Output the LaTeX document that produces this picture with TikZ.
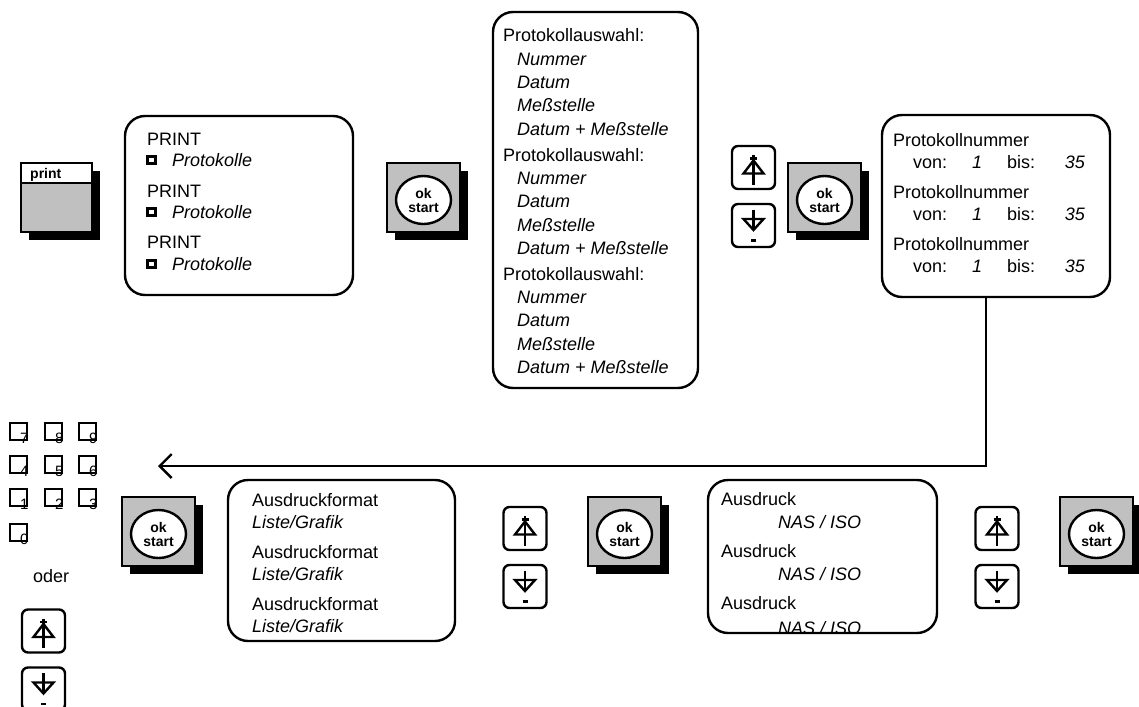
\documentclass[tikz,border=0pt]{standalone}
\usepackage{fontspec}
\setmainfont{Liberation Sans}
\usetikzlibrary{arrows.meta,shadows,shapes.geometric}
\definecolor{keygrey}{HTML}{C0C0C0}

\tikzset{
  panel/.style={draw, line width=2.4pt, rounded corners=20pt, inner sep=0pt},
  txt/.style={anchor=base west, inner sep=0pt, font=\fontsize{18}{22}\selectfont},
  itxt/.style={txt, font=\fontsize{18}{22}\selectfont\itshape},
  keybody/.style={draw, line width=2.2pt, fill=keygrey, inner sep=0pt,
    minimum width=73pt, minimum height=69pt,
    drop shadow={shadow xshift=8pt, shadow yshift=-8pt, fill=black, opacity=1}},
  okface/.style={ellipse, draw, line width=2.4pt, fill=white, minimum width=55pt, minimum height=48pt,
    inner sep=0pt, align=center, font=\fontsize{14}{14}\selectfont\bfseries},
  keylbl/.style={anchor=base west, inner sep=0pt, font=\fontsize{14}{14}\selectfont\bfseries},
  bullet/.style={draw, line width=2.2pt, minimum width=8pt, minimum height=7pt, inner sep=0pt},
  padkey/.style={draw, line width=2.6pt, minimum size=17pt, inner sep=0pt},
  paddigit/.style={anchor=base west, inner sep=0pt, font=\fontsize{15}{15}\selectfont},
  btnframe/.style={draw, line width=2.4pt, rounded corners=6pt, minimum size=43pt, inner sep=0pt},
  glyph/.style={line width=2.4pt},
  link/.style={line width=2.4pt, -{Straight Barb[length=12pt,width=24pt,line width=2.4pt]}},
  upkey/.pic={
    \node[btnframe] (-f) at (0,0) {};
    \draw[glyph] (0,-12.5) -- (0,17);
    \draw[glyph] (-3.5,-9) -- (3.5,-9);
    \draw[glyph, line join=miter] (0,-7) -- (10,6) -- (-10,6) -- cycle;
  },
  downkey/.pic={
    \node[btnframe] (-f) at (0,0) {};
    \draw[glyph] (0,-16) -- (0,4);
    \draw[glyph, line join=miter] (-10,-6.5) -- (10,-6.5) -- (0,4.5) -- cycle;
    \draw[glyph] (-2.5,15) -- (2.5,15);
  }
}

\begin{document}
\begin{tikzpicture}[x=1pt, y=-1pt]
\useasboundingbox (0,0) rectangle (1139,706);
\fill[white] (0,0) rectangle (1139,706);

% print key
\node[keybody, minimum width=71pt] (pk) at (56.5,197.5) {};
\draw[line width=2.2pt, fill=white] (21,163) rectangle (92,183);
\node[keylbl] (pklbl) at (30,178) {print};

% menu: PRINT / Protokolle
\node[panel, minimum width=228pt, minimum height=179pt] (b1) at (239,205.5) {};
\foreach \g/\yp/\yq in {0/145/166, 1/197/218, 2/248/270} {
  \node[txt] (pr\g) at (147,\yp) {PRINT};
  \node[bullet] (bu\g) at (151.5,\yq-6) {};
  \node[itxt] (pt\g) at (172,\yq) {Protokolle};
}

% ok/start keys
\foreach \k/\x/\y in {1/423.5/197.5, 2/824.5/197.5, 3/158.5/531.5, 4/624.5/531.5, 5/1096.5/531.5} {
  \node[keybody] (k\k) at (\x,\y) {};
  \node[okface] (k\k f) at (\x,\y+2.5) {ok\\start};
}

% menu: Protokollauswahl
\node[panel, minimum width=205pt, minimum height=376pt] (b2) at (595.5,200) {};
\foreach \g in {0,1,2} {
  \pgfmathsetmacro\yb{42+119*\g}
  \node[txt]  (pa\g) at (503,\yb) {Protokollauswahl:};
  \node[itxt] (pn\g) at (517,\yb+23.3) {Nummer};
  \node[itxt] (pd\g) at (517,\yb+46.6) {Datum};
  \node[itxt] (pm\g) at (517,\yb+70) {Meßstelle};
  \node[itxt] (pdm\g) at (517,\yb+93.3) {Datum + Meßstelle};
}

% arrow keys
\pic (upA) at (753.5,167.5) {upkey};
\pic (dnA) at (753.5,225.5) {downkey};
\pic (upB) at (525,528.5) {upkey};
\pic (dnB) at (525,586.5) {downkey};
\pic (upC) at (997,528.5) {upkey};
\pic (dnC) at (997,586.5) {downkey};
\pic (upD) at (43.5,631) {upkey};
\pic (dnD) at (43.5,689) {downkey};

% menu: Protokollnummer
\node[panel, minimum width=228pt, minimum height=182pt] (b3) at (996,206) {};
\foreach \g/\yp/\yq in {0/146/168, 1/198/220, 2/250/272} {
  \node[txt] (pnr\g) at (893,\yp) {Protokollnummer};
  \node[txt] (von\g) at (913,\yq) {von:};
  \node[itxt] (one\g) at (972,\yq) {1};
  \node[txt] (bis\g) at (1007,\yq) {bis:};
  \node[itxt, anchor=base east] (end\g) at (1085,\yq) {35};
}

% return connector
\coordinate (bend) at (986,466);
\coordinate (tip) at (158,466);
\draw[link] (bend |- b3.south) -- (bend) -- (tip);

% numeric keypad
\foreach \d/\x/\y in {7/10/423, 8/45/423, 9/79/423, 4/10/456, 5/45/456, 6/79/456,
                      1/10/489, 2/45/489, 3/79/489, 0/10/524} {
  \node[padkey] (pad\d) at (\x+8.5,\y+8.5) {};
  \node[paddigit] (padn\d) at (\x+10,\y+20) {\d};
}
\node[txt] (oder) at (33,582) {oder};

% menu: Ausdruckformat
\node[panel, minimum width=227pt, minimum height=161pt] (b4) at (341.5,560.5) {};
\foreach \g/\yp/\yq in {0/506/528, 1/558/580, 2/610/632} {
  \node[txt] (af\g) at (252,\yp) {Ausdruckformat};
  \node[itxt] (lg\g) at (252,\yq) {Liste/Grafik};
}

% menu: Ausdruck
\begin{scope}
  \clip[rounded corners=20pt] (708,480) rectangle (937,633);
  \foreach \g/\yp/\yq in {0/505/528, 1/557/580, 2/609/634} {
    \node[txt] (ad\g) at (721,\yp) {Ausdruck};
    \node[itxt] (ni\g) at (778,\yq) {NAS / ISO};
  }
\end{scope}
\node[panel, minimum width=229pt, minimum height=153pt] (b5) at (822.5,556.5) {};
\end{tikzpicture}
\end{document}
